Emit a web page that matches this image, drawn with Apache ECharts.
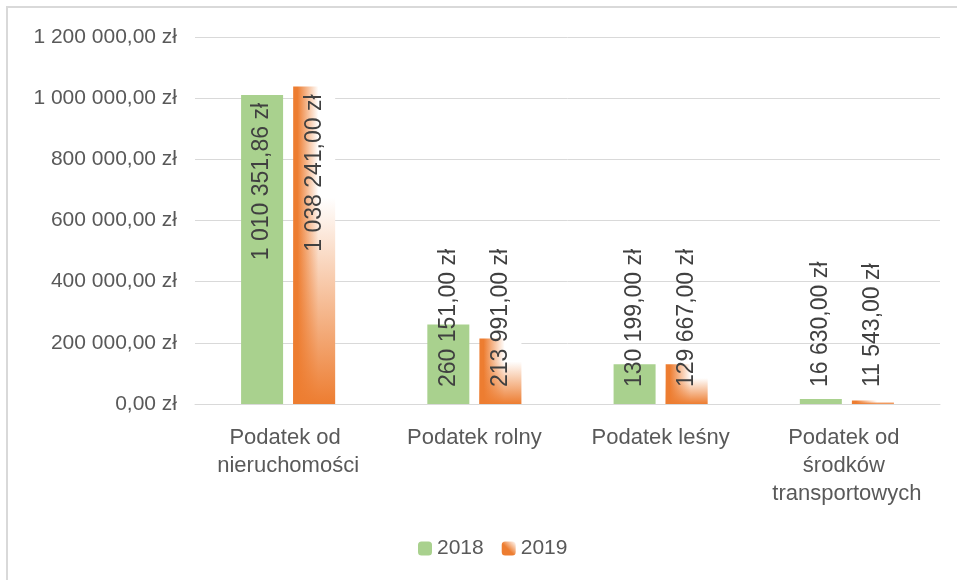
<!DOCTYPE html>
<html lang="pl">
  <head>
    <meta charset="UTF-8" />
    <title>Podatki 2018-2019</title>
    <style>
      html, body { margin: 0; padding: 0; background: #fff; }
      #chart { width: 957px; height: 580px; }
    </style>
  </head>
  <body>
    <div id="chart"></div>
    <script src="https://cdn.jsdelivr.net/npm/echarts@6/dist/echarts.min.js"></script>
    <script>
      // dane
      var categories = [
        "Podatek od nieruchomości",
        "Podatek rolny",
        "Podatek leśny",
        "Podatek od środków transportowych",
      ];
      var values2018 = [1010351.86, 260151.0, 130199.0, 16630.0];
      var values2019 = [1038241.0, 213991.0, 129667.0, 11543.0];
      var yTicks = { min: 0, max: 1200000, interval: 200000 };

      // 1 234 567,89 zł
      function zl(v) {
        var parts = v.toFixed(2).split(".");
        var whole = parts[0].replace(/\B(?=(\d{3})+(?!\d))/g, " ");
        return whole + "," + parts[1] + " zł";
      }

      // wysokie słupki - etykieta u góry, niskie - od podstawy
      function withLabels(arr) {
        return arr.map(function (v) {
          var top = v > 600000;
          return {
            value: v,
            label: {
              position: top ? "insideTop" : "insideBottom",
              align: top ? "right" : "left",
              verticalAlign: "middle",
              distance: top ? 8 : 17,
            },
          };
        });
      }

      var font = "'Liberation Sans', Arial, sans-serif";
      var labelStyle = {
        show: true,
        rotate: 90,
        fontSize: 23,
        fontFamily: font,
        color: "#404040",
        formatter: function (p) {
          return zl(p.value);
        },
      };

      var orange = "#ed7d31";
      // gradient "od rogu" w Excelu: poziomy (pomarańcz -> biel) + pionowa nakładka
      var orangeH = {
        type: "linear",
        x: 0, y: 0, x2: 1, y2: 0,
        colorStops: [
          { offset: 0, color: orange },
          { offset: 0.1, color: orange },
          { offset: 0.6, color: "#ffffff" },
          { offset: 1, color: "#ffffff" },
        ],
      };
      var orangeV = {
        type: "linear",
        x: 0, y: 0, x2: 0, y2: 1,
        colorStops: [
          { offset: 0, color: "rgba(237,125,49,0)" },
          { offset: 0.35, color: "rgba(237,125,49,0)" },
          { offset: 1, color: "rgba(237,125,49,1)" },
        ],
      };
      // ikonka legendy: biały prawy górny róg
      var orangeIcon = {
        type: "linear",
        x: 1, y: 0, x2: 0, y2: 1,
        colorStops: [
          { offset: 0, color: "#ffffff" },
          { offset: 0.55, color: orange },
          { offset: 1, color: orange },
        ],
      };

      var myChart = echarts.init(document.getElementById("chart"));
      var option = {
        animation: false,
        backgroundColor: "#fff",
        graphic: [
          {
            type: "rect",
            shape: { x: 7, y: 7, width: 980, height: 620 },
            style: { fill: "none", stroke: "#d9d9d9", lineWidth: 2 },
            silent: true,
          },
        ],
        grid: { left: 195, right: 17, top: 37, bottom: 176 },
        legend: {
          left: 413,
          top: 533,
          itemWidth: 14,
          itemHeight: 14,
          itemGap: 18,
          textStyle: { fontSize: 21, fontFamily: font, color: "#595959" },
          data: ["2018", { name: "2019", itemStyle: { color: orangeIcon } }],
        },
        xAxis: [
          {
            type: "category",
            data: categories,
            axisLine: { lineStyle: { color: "#d9d9d9", width: 1 } },
            axisTick: { show: false },
            axisLabel: {
              interval: 0,
              margin: 20,
              fontSize: 22,
              lineHeight: 28,
              fontFamily: font,
              color: "#595959",
              width: 175,
              overflow: "break",
            },
          },
          {
            // ukryta oś dla nakładki gradientu
            type: "category",
            data: categories,
            show: false,
          },
        ],
        yAxis: {
          type: "value",
          min: yTicks.min,
          max: yTicks.max,
          interval: yTicks.interval,
          axisLine: { show: false },
          axisTick: { show: false },
          splitLine: { lineStyle: { color: "#d9d9d9", width: 1 } },
          axisLabel: {
            margin: 18,
            fontSize: 21,
            fontFamily: font,
            color: "#595959",
            formatter: function (v) {
              return zl(v);
            },
          },
        },
        series: [
          {
            name: "2018",
            type: "bar",
            barWidth: 42,
            barGap: "24%",
            itemStyle: { color: "#a9d18e" },
            label: labelStyle,
            data: withLabels(values2018),
          },
          {
            name: "2019",
            type: "bar",
            barWidth: 42,
            barGap: "24%",
            itemStyle: { color: orangeH },
            data: values2019,
          },
          {
            // pusty odpowiednik 2018 na osi ukrytej, żeby nakładka trafiła na 2019
            name: "_pusty",
            type: "bar",
            xAxisIndex: 1,
            barWidth: 42,
            barGap: "24%",
            silent: true,
            data: values2018.map(function () {
              return "-";
            }),
          },
          {
            name: "_2019",
            type: "bar",
            xAxisIndex: 1,
            barWidth: 42,
            barGap: "24%",
            silent: true,
            itemStyle: { color: orangeV },
            label: labelStyle,
            data: withLabels(values2019),
          },
        ],
      };
      myChart.setOption(option);
      window.onresize = function () {
        myChart.resize();
      };
    </script>
  </body>
</html>
